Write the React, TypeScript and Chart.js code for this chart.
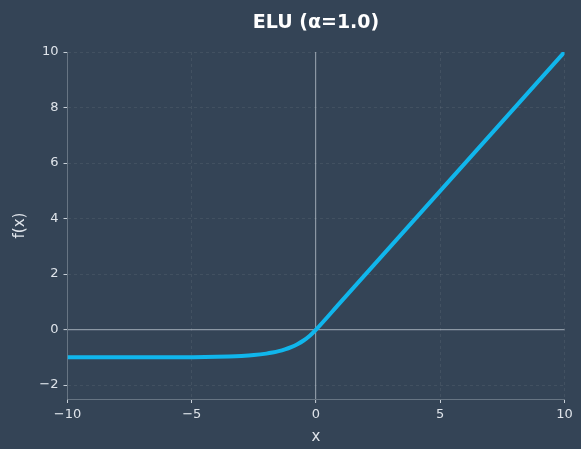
import React, { useEffect, useRef } from "react";
import { Chart, registerables } from "chart.js";

Chart.register(...registerables);

const xValues = [-10, -9, -8, -7, -6, -5, -4, -3.5, -3, -2.5, -2, -1.75, -1.5, -1.25, -1, -0.75, -0.5, -0.25, 0, 1, 5, 10];
const yValues = [-1.0, -1.0, -1.0, -1.0, -0.998, -0.993, -0.982, -0.97, -0.95, -0.918, -0.865, -0.826, -0.777, -0.713, -0.632, -0.528, -0.393, -0.221, 0, 1, 5, 10];
const xTicks = [-10, -5, 0, 5, 10];
const yTicks = [-2, 0, 2, 4, 6, 8, 10];
const titleText = "ELU (α=1.0)";
const xLabel = "x";
const yLabel = "f(x)";

const BG = "#344456";
const TEXT = "#dfe4ea";
const FONT = "'DejaVu Sans', sans-serif";

const titlePlugin = {
  id: "customTitle",
  afterDraw(chart: any) {
    const { ctx, chartArea } = chart;
    ctx.save();
    ctx.font = `bold 19px ${FONT}`;
    ctx.fillStyle = "#ffffff";
    ctx.textAlign = "center";
    ctx.textBaseline = "middle";
    ctx.fillText(titleText, (chartArea.left + chartArea.right) / 2, 23);
    ctx.restore();
  },
};

const fmt = (v: number) => String(v).replace("-", "\u2212");

export default function App() {
  const ref = useRef<HTMLCanvasElement>(null);
  useEffect(() => {
    if (!ref.current) return;
    const chart = new Chart(ref.current, {
      type: "line",
      data: {
        datasets: [
          {
            data: xValues.map((x, i) => ({ x, y: yValues[i] })),
            borderColor: "#10b6ec",
            borderWidth: 4,
            pointRadius: 0,
            cubicInterpolationMode: "monotone",
            fill: false,
          },
        ],
      },
      options: {
        animation: false,
        responsive: false,
        events: [],
        layout: { padding: { left: 0, right: 16.5, top: 52, bottom: 0 } },
        plugins: { legend: { display: false }, tooltip: { enabled: false }, title: { display: false } },
        scales: {
          x: {
            type: "linear",
            min: -10,
            max: 10,
            afterBuildTicks: (s: any) => { s.ticks = xTicks.map((v) => ({ value: v })); },
            afterFit: (s: any) => { s.height = 50; },
            ticks: { color: TEXT, font: { family: FONT, size: 13 }, padding: 4, callback: (v: any) => fmt(v), maxRotation: 0 },
            grid: {
              color: (c: any) => (c.tick && c.tick.value === 0 ? "rgba(200,208,216,0.6)" : c.tick && c.tick.value === -10 ? "rgba(0,0,0,0)" : "rgba(255,255,255,0.09)"),
              lineWidth: (c: any) => (c.tick && c.tick.value === 0 ? 1.2 : 0.8),
              tickColor: "#c8d0d8",
              tickLength: 4,
              tickWidth: 1,
            },
            border: {
              display: true,
              color: "rgba(200,208,216,0.35)",
              width: 1,
              dash: (c: any) => (c.tick && c.tick.value === 0 ? [] : [3, 3]),
            },
            title: { display: true, text: xLabel, color: TEXT, font: { family: FONT, size: 15 }, padding: { top: 0, bottom: 3 } },
          },
          y: {
            type: "linear",
            min: -2.5,
            max: 10,
            afterBuildTicks: (s: any) => { s.ticks = yTicks.map((v) => ({ value: v })); },
            afterFit: (s: any) => { s.width = 67.5; },
            ticks: { color: TEXT, font: { family: FONT, size: 13 }, padding: 5, callback: (v: any) => fmt(v) },
            grid: {
              color: (c: any) => (c.tick && c.tick.value === 0 ? "rgba(200,208,216,0.6)" : "rgba(255,255,255,0.09)"),
              lineWidth: (c: any) => (c.tick && c.tick.value === 0 ? 1.2 : 0.8),
              tickColor: "#c8d0d8",
              tickLength: 4,
              tickWidth: 1,
            },
            border: {
              display: true,
              color: "rgba(200,208,216,0.35)",
              width: 1,
              dash: (c: any) => (c.tick && c.tick.value === 0 ? [] : [3, 3]),
            },
            title: { display: true, text: yLabel, color: TEXT, font: { family: FONT, size: 15 }, padding: { top: 11, bottom: 0 } },
          },
        },
      },
      plugins: [titlePlugin],
    } as any);
    return () => chart.destroy();
  }, []);
  return (
    <div style={{ position: "fixed", left: 0, top: 0, width: 581, height: 449, background: BG }}>
      <canvas ref={ref} width={581} height={449} style={{ display: "block" }} />
    </div>
  );
}
